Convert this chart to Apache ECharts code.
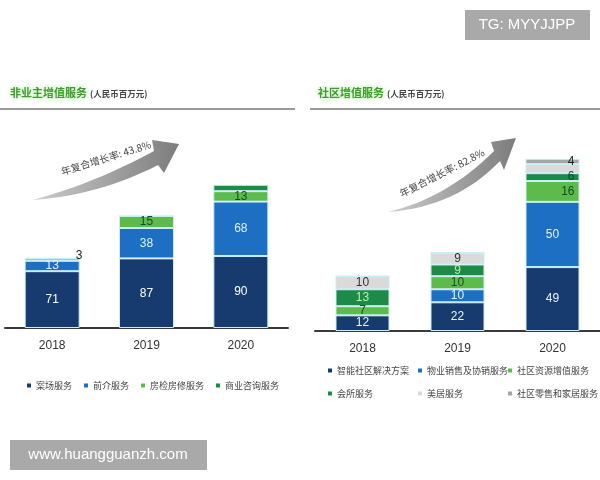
<!DOCTYPE html>
<html>
<head>
<meta charset="utf-8">
<script src="https://cdn.jsdelivr.net/npm/echarts@6/dist/echarts.min.js"></script>
<style>html,body{margin:0;padding:0;background:#fff}#c{width:600px;height:480px}</style>
</head>
<body>
<div id="c"></div>
<script>
// ---- data ----
const years = ['2018', '2019', '2020'];
// 非业主增值服务
const leftNames = ['案场服务', '前介服务', '房检房修服务', '商业咨询服务'];
const caseService = [71, 87, 90];
const preService = [13, 38, 68];
const inspectService = [3, 15, 13];
const consultService = [0, 0, 8];
const leftTotals = [86, 140, 179];
const leftCagr = '年复合增长率: 43.8%';
// 社区增值服务
const rightNames = ['智能社区解决方案', '物业销售及协销服务', '社区资源增值服务', '会所服务', '美居服务', '社区零售和家居服务'];
const smartCommunity = [12, 22, 49];
const propertySales = [0, 10, 50];
const resourceService = [7, 10, 16];
const clubService = [13, 9, 6];
const homeService = [10, 9, 7];
const retailService = [0, 0, 4];
const rightTotals = [43, 63, 143];
const rightCagr = '年复合增长率: 82.8%';

const C = {
  navy: '#173b6e', blue: '#1c6fc3', lgreen: '#5dbb4b', dgreen: '#1e8a47',
  lgray: '#dadada', gray: '#a5a5a5'
};
const border = { borderColor: '#c9eef4', borderWidth: 1 };
const numFont = '"Liberation Sans Narrow", "Liberation Sans", Arial, sans-serif';

function lab(color, pos) {
  return {
    show: true, position: pos || 'inside', color: color, fontSize: 12,
    fontFamily: numFont, formatter: p => (p.value ? String(p.value) : '')
  };
}
function seg(name, data, color, stack, idx, labelColor, width, pos) {
  return {
    name: name, type: 'bar', stack: stack, data: data, barWidth: width,
    xAxisIndex: idx, yAxisIndex: idx,
    itemStyle: Object.assign({ color: color }, border),
    label: labelColor ? lab(labelColor, pos) : { show: false },
    emphasis: { disabled: true }
  };
}
function sums(arrs) {
  return years.map((_, i) => arrs.reduce((s, a) => s + a[i], 0));
}
const leftSum = sums([caseService, preService, inspectService, consultService]);
const rightSum = sums([smartCommunity, propertySales, resourceService, clubService, homeService, retailService]);

const inspectData = inspectService.map((v, i) => i === 0
  ? { value: v, label: { position: 'right', distance: -4, offset: [0, -4], color: '#222' } }
  : v);

function totalSeries(sumArr, totals, idx) {
  return {
    type: 'scatter', xAxisIndex: idx, yAxisIndex: idx, data: sumArr,
    symbolSize: 1, itemStyle: { opacity: 0 }, silent: true,
    label: {
      show: true, position: 'top', distance: 10, color: '#111', fontWeight: 'bold',
      fontSize: 12, fontFamily: numFont, formatter: p => String(totals[p.dataIndex])
    }
  };
}

const axisX = (idx) => ({
  type: 'category', data: years, gridIndex: idx,
  axisLine: { lineStyle: { color: '#3a3a3a', width: 2 } },
  axisTick: { show: false },
  axisLabel: { color: '#333', fontSize: 12, margin: 12, fontFamily: numFont }
});
const axisY = (idx, max) => ({
  type: 'value', gridIndex: idx, min: 0, max: max, show: false,
  splitLine: { show: false }
});

const titleRich = {
  a: { color: '#3f9c2f', fontSize: 11, fontWeight: 'bold', fontFamily: '"Noto Sans CJK SC", sans-serif',
       textShadowColor: '#a6e596', textShadowBlur: 6 },
  b: { color: '#444', fontSize: 8.5, fontFamily: '"Noto Sans CJK SC", sans-serif', padding: [2, 0, 0, 3] }
};

const legendText = { color: '#444', fontSize: 9, fontFamily: '"Noto Sans CJK SC", sans-serif' };
function legend(names, left, top, gap) {
  return { data: names, left: left, top: top, icon: 'rect', itemWidth: 4, itemHeight: 4, itemGap: gap || 10,
    itemStyle: { borderWidth: 0 }, textStyle: legendText, selectedMode: false };
}

// decorative curved arrow outline (quadratic curves sampled into polygon points)
function quad(p0, c, p1, n) {
  const pts = [];
  for (let i = 0; i <= n; i++) {
    const t = i / n, u = 1 - t;
    pts.push([u * u * p0[0] + 2 * u * t * c[0] + t * t * p1[0], u * u * p0[1] + 2 * u * t * c[1] + t * t * p1[1]]);
  }
  return pts;
}
function arrowPts(tail, lowC, lowEnd, headA, tip, headB, upEnd, upC) {
  const low = quad(tail, lowC, lowEnd, 16);
  const up = quad(upEnd, upC, tail, 16);
  return low.concat([headA, tip, headB]).concat(up);
}
const grad = { type: 'linear', x: 0, y: 0, x2: 1, y2: 0,
  colorStops: [{ offset: 0, color: '#cccccc' }, { offset: 1, color: '#7c7c7c' }] };

const option = {
  animation: false,
  title: [
    { text: '{a|非业主增值服务}{b|(人民币百万元)}', left: 5, top: 82, textStyle: { rich: titleRich } },
    { text: '{a|社区增值服务}{b|(人民币百万元)}', left: 313, top: 82, textStyle: { rich: titleRich } }
  ],
  legend: [
    legend(leftNames, 22, 376, 12),
    legend([rightNames[0]], 323, 361),
    legend([rightNames[1]], 413, 361),
    legend([rightNames[2]], 503, 361),
    legend([rightNames[3]], 323, 384),
    legend([rightNames[4]], 413, 384),
    legend([rightNames[5]], 503, 384)
  ],
  grid: [
    { left: 5, width: 283, top: 128, height: 200 },
    { left: 315, width: 285, top: 151, height: 180 }
  ],
  xAxis: [axisX(0), axisX(1)],
  yAxis: [axisY(0, 250), axisY(1, 138)],
  series: [
    seg(leftNames[0], caseService, C.navy, 'L', 0, '#ffffff', 55),
    seg(leftNames[1], preService, C.blue, 'L', 0, '#dff3ff', 55),
    seg(leftNames[2], inspectData, C.lgreen, 'L', 0, '#154d24', 55),
    seg(leftNames[3], consultService, C.dgreen, 'L', 0, null, 55),
    totalSeries(leftSum, leftTotals, 0),
    seg(rightNames[0], smartCommunity, C.navy, 'R', 1, '#e8f4ff', 54),
    seg(rightNames[1], propertySales, C.blue, 'R', 1, '#dff3ff', 54),
    seg(rightNames[2], resourceService.map((v, i) => i === 2 ? { value: v, label: { position: 'insideRight', color: '#114a1f' } } : v), C.lgreen, 'R', 1, '#1a4f22', 54),
    seg(rightNames[3], clubService.map((v, i) => i === 2 ? { value: v, label: { position: 'insideRight', color: '#114a1f' } } : v), C.dgreen, 'R', 1, '#b8f0a8', 54),
    seg(rightNames[4], homeService.map((v, i) => i === 2 ? { value: v, label: { show: false } } : v), C.lgray, 'R', 1, '#333', 54),
    seg(rightNames[5], retailService, C.gray, 'R', 1, '#222', 54, 'insideRight'),
    totalSeries(rightSum, rightTotals, 1)
  ],
  graphic: [
    { type: 'line', shape: { x1: 0, y1: 109, x2: 295, y2: 109 }, style: { stroke: '#9a9a9a', lineWidth: 2 } },
    { type: 'line', shape: { x1: 310, y1: 109, x2: 600, y2: 109 }, style: { stroke: '#9a9a9a', lineWidth: 2 } },
    { type: 'polygon', shape: { points: arrowPts([33, 200], [100, 195], [158, 165], [164, 173], [179, 144], [152, 140], [154, 151], [95, 183]) },
      style: { fill: grad } },
    { type: 'text', x: 106, y: 158, rotation: 0.3,
      style: { text: leftCagr, fill: '#444', font: '10px "Noto Sans CJK SC", sans-serif', align: 'center', verticalAlign: 'middle' } },
    { type: 'polygon', shape: { points: arrowPts([388, 212], [456, 207], [500, 161], [504, 170], [516, 138], [491, 142], [494, 151], [447, 198]) },
      style: { fill: grad } },
    { type: 'text', x: 442, y: 173, rotation: 0.47,
      style: { text: rightCagr, fill: '#444', font: '10px "Noto Sans CJK SC", sans-serif', align: 'center', verticalAlign: 'middle' } },
    { type: 'rect', shape: { x: 465, y: 10, width: 125, height: 30 }, style: { fill: '#a9a9a9' } },
    { type: 'text', x: 527, y: 25, style: { text: 'TG: MYYJJPP', fill: '#fff', font: '15px "Liberation Sans", Arial, sans-serif', align: 'center', verticalAlign: 'middle' } },
    { type: 'rect', shape: { x: 10, y: 440, width: 197, height: 30 }, style: { fill: '#a9a9a9' } },
    { type: 'text', x: 108, y: 455, style: { text: 'www.huangguanzh.com', fill: '#fff', font: '15px "Liberation Sans", Arial, sans-serif', align: 'center', verticalAlign: 'middle' } }
  ]
};
const chart = echarts.init(document.getElementById('c'));
chart.setOption(option);
</script>
</body>
</html>
